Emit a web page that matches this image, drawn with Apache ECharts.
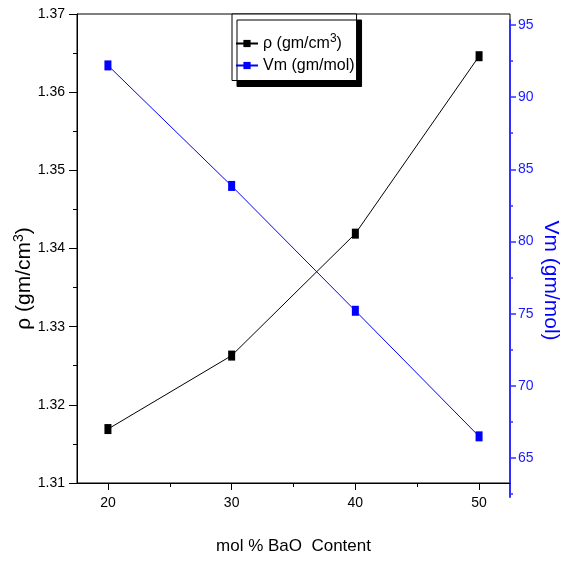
<!DOCTYPE html>
<html>
<head>
<meta charset="utf-8">
<script src="https://cdn.jsdelivr.net/npm/echarts@6/dist/echarts.min.js"></script>
<style>
html,body{margin:0;padding:0;background:#fff;}
#chart{width:564px;height:562px;}
</style>
</head>
<body>
<div id="chart"></div>
<script>
// ---- data ----
const molBaO = [20, 30, 40, 50];
const density = [1.3169, 1.3263, 1.3419, 1.3646];
const molarVolume = [92.2, 83.85, 75.2, 66.5];
const xTicks = [20, 30, 40, 50];
const xMinorTicks = [25, 35, 45];
const vmTicks = [65, 70, 75, 80, 85, 90, 95];
const vmMinorTicks = [62.5, 67.5, 72.5, 77.5, 82.5, 87.5, 92.5];
const seriesNames = ['ρ (gm/cm3)', 'Vm (gm/mol)'];

const FONT = '"Liberation Sans", Arial, sans-serif';
const BLUE = '#0000ff';
const AXIS_BLUE = '#3030ff';

const chart = echarts.init(document.getElementById('chart'), null, {renderer: 'canvas'});

const option = {
  backgroundColor: '#fff',
  animation: false,
  textStyle: {fontFamily: FONT},
  grid: [
    {left: 77, right: 54, top: 14, bottom: 79, show: true, borderColor: '#000', borderWidth: 1,
     backgroundColor: 'transparent', containLabel: false, outerBoundsMode: 'none'},
    {left: 77, right: 54, top: 20, bottom: 65, show: false, containLabel: false, outerBoundsMode: 'none'}
  ],
  legend: {
    data: seriesNames,
    orient: 'vertical',
    left: 232,
    top: 14,
    backgroundColor: '#fff',
    borderColor: '#000',
    borderWidth: 1,
    borderRadius: 0,
    shadowColor: '#000',
    shadowBlur: 0,
    shadowOffsetX: 5,
    shadowOffsetY: 6,
    padding: [19, 2, 7, 3],
    itemGap: 6,
    itemWidth: 22,
    itemHeight: 9,
    textStyle: {fontFamily: FONT, fontSize: 16, color: '#000', rich: {
      sup: {fontSize: 12, fontFamily: FONT, padding: [0, 0, 9, 0], color: '#000'}
    }},
    formatter: function (name) {
      if (name === seriesNames[0]) return 'ρ (gm/cm{sup|3})';
      return name;
    }
  },
  xAxis: [
    {
      type: 'value', gridIndex: 0, min: 17.5, max: 52.5,
      axisLine: {show: true, lineStyle: {color: '#000', width: 1}},
      axisTick: {show: true, inside: false, length: 7, customValues: xTicks, lineStyle: {color: '#000'}},
      axisLabel: {show: true, customValues: xTicks, margin: 13, color: '#000', fontSize: 14, fontFamily: FONT},
      splitLine: {show: false},
      name: 'mol % BaO  Content',
      nameLocation: 'middle',
      nameGap: 55,
      nameMoveOverlap: false,
      nameTextStyle: {fontSize: 17, color: '#000', fontFamily: FONT}
    },
    {
      type: 'value', gridIndex: 0, min: 17.5, max: 52.5, position: 'bottom',
      axisLine: {show: false},
      axisTick: {show: true, inside: false, length: 4, customValues: xMinorTicks, lineStyle: {color: '#000'}},
      axisLabel: {show: false},
      splitLine: {show: false}
    },
    {
      type: 'value', gridIndex: 1, min: 17.5, max: 52.5, show: false
    }
  ],
  yAxis: [
    {
      type: 'value', gridIndex: 0, position: 'left', min: 1.31, max: 1.37, interval: 0.01,
      axisLine: {show: true, lineStyle: {color: '#000', width: 1}},
      axisTick: {show: true, inside: false, length: 8, lineStyle: {color: '#000'}},
      minorTick: {show: true, splitNumber: 2, length: 4, lineStyle: {color: '#000'}},
      axisLabel: {margin: 12, color: '#000', fontSize: 14, fontFamily: FONT, formatter: v => v.toFixed(2)},
      splitLine: {show: false},
      name: 'ρ (gm/cm{sup|3})',
      nameLocation: 'middle',
      nameRotate: 90,
      nameGap: 41,
      nameMoveOverlap: false,
      nameTextStyle: {fontSize: 21, color: '#000', fontFamily: FONT, padding: [0, 60, 0, 0], rich: {
        sup: {fontSize: 14, fontFamily: FONT, padding: [0, 0, 10, 0], color: '#000'}
      }}
    },
    {
      type: 'value', gridIndex: 1, position: 'right', min: 62.298, max: 95.346,
      axisLine: {show: true, lineStyle: {color: AXIS_BLUE, width: 2}},
      axisTick: {show: true, inside: false, length: 6, customValues: vmTicks, lineStyle: {color: AXIS_BLUE, width: 1.5}},
      axisLabel: {show: true, customValues: vmTicks, margin: 8, color: '#1a1aff', fontSize: 14, fontFamily: FONT},
      splitLine: {show: false},
      name: 'Vm (gm/mol)',
      nameLocation: 'middle',
      nameRotate: -90,
      nameGap: 30,
      nameMoveOverlap: false,
      nameTextStyle: {fontSize: 21, color: BLUE, fontFamily: FONT, padding: [0, 0, 0, 44]}
    },
    {
      type: 'value', gridIndex: 1, position: 'right', min: 62.298, max: 95.346,
      axisLine: {show: false},
      axisTick: {show: true, inside: false, length: 3, customValues: vmMinorTicks, lineStyle: {color: AXIS_BLUE, width: 1.5}},
      axisLabel: {show: false},
      splitLine: {show: false}
    }
  ],
  series: [
    {
      name: seriesNames[0], type: 'line', xAxisIndex: 0, yAxisIndex: 0,
      data: molBaO.map((x, i) => [x, density[i]]),
      symbol: 'rect', symbolSize: [7, 10],
      lineStyle: {color: '#000', width: 1},
      itemStyle: {color: '#000'},
      z: 3
    },
    {
      name: seriesNames[1], type: 'line', xAxisIndex: 2, yAxisIndex: 1,
      data: molBaO.map((x, i) => [x, molarVolume[i]]),
      symbol: 'rect', symbolSize: [7, 10],
      lineStyle: {color: BLUE, width: 1},
      itemStyle: {color: BLUE},
      z: 3
    }
  ]
};
chart.setOption(option);
</script>
</body>
</html>
